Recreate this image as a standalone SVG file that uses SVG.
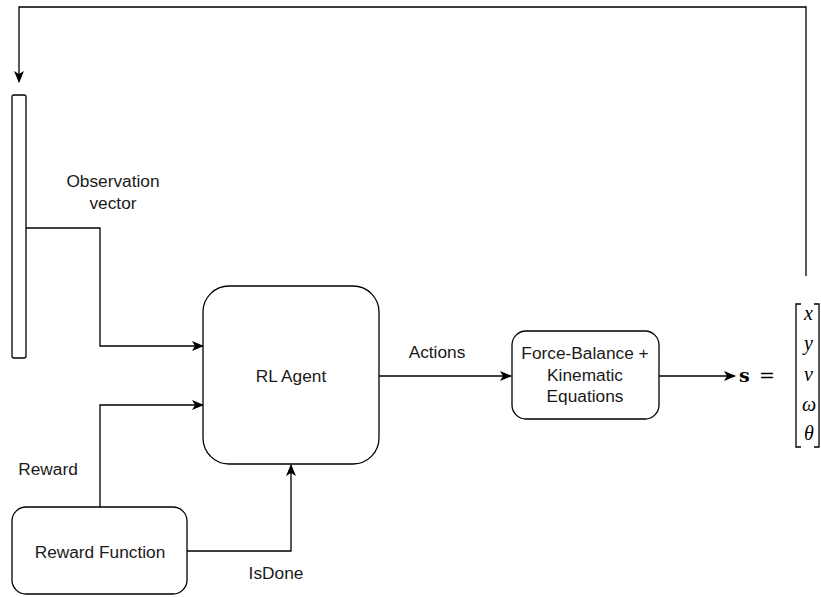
<svg xmlns="http://www.w3.org/2000/svg" width="821" height="597" viewBox="0 0 821 597">
<defs>
<marker id="ah" markerWidth="12" markerHeight="12" refX="11" refY="6" orient="auto" markerUnits="userSpaceOnUse">
<path d="M0,1 L12,6 L0,11 L3,6 Z" fill="#000"/>
</marker>
</defs>
<style>
.box{fill:#fff;stroke:#000;stroke-width:1.3}
.ln{fill:none;stroke:#000;stroke-width:1.3}
.t{font-family:"Liberation Sans",Arial,sans-serif;font-size:17.3px;fill:#1a1a1a;text-anchor:middle}
.m{font-family:"DejaVu Serif","Liberation Serif",serif;font-size:19px;fill:#000}
.mi{font-family:"Liberation Serif","DejaVu Serif",serif;font-style:italic;font-size:20px}
</style>
<rect width="821" height="597" fill="#fff"/>
<g id="connectors">
<path class="ln" d="M806,276 L806,7 L19,7 L19,82" marker-end="url(#ah)"/>
<path class="ln" d="M26,228 L100,228 L100,346 L203,346" marker-end="url(#ah)"/>
<path class="ln" d="M100,507 L100,405 L203,405" marker-end="url(#ah)"/>
<path class="ln" d="M187,551 L291,551 L291,465" marker-end="url(#ah)"/>
<path class="ln" d="M379,376 L511,376" marker-end="url(#ah)"/>
<path class="ln" d="M659,376 L735,376" marker-end="url(#ah)"/>
</g>
<g id="obs-bar">
<rect class="box" x="12" y="95" width="14" height="263" rx="2"/>
</g>
<g id="obs-label">
<text class="t" x="113" y="187">Observation</text>
<text class="t" x="113" y="209">vector</text>
</g>
<g id="rl-agent">
<rect class="box" x="203" y="286" width="176" height="178" rx="26"/>
<text class="t" x="291" y="382">RL Agent</text>
</g>
<g id="actions-label"><text class="t" x="437" y="358">Actions</text></g>
<g id="force-box">
<rect class="box" x="512" y="331" width="147" height="88" rx="14"/>
<text class="t" x="585" y="359">Force-Balance +</text>
<text class="t" x="585" y="381">Kinematic</text>
<text class="t" x="585" y="402">Equations</text>
</g>
<g id="reward-fn">
<rect class="box" x="12" y="507" width="175" height="87" rx="14"/>
<text class="t" x="100" y="558">Reward Function</text>
</g>
<g id="reward-label"><text class="t" x="48" y="475">Reward</text></g>
<g id="isdone-label"><text class="t" x="276" y="579">IsDone</text></g>
<g id="state">
<text class="m" x="739" y="382" font-weight="bold">s</text>
<text class="m" x="759" y="382">=</text>
<path class="ln" d="M801,304 L796,304 L796,447 L801,447" stroke-width="1.5"/>
<path class="ln" d="M814,304 L819,304 L819,447 L814,447" stroke-width="1.5"/>
<text class="mi" x="804" y="320">x</text>
<text class="mi" x="804" y="350">y</text>
<text class="mi" x="804" y="381">v</text>
<text class="mi" x="802" y="411">ω</text>
<text class="mi" x="804" y="440">θ</text>
</g>
</svg>
